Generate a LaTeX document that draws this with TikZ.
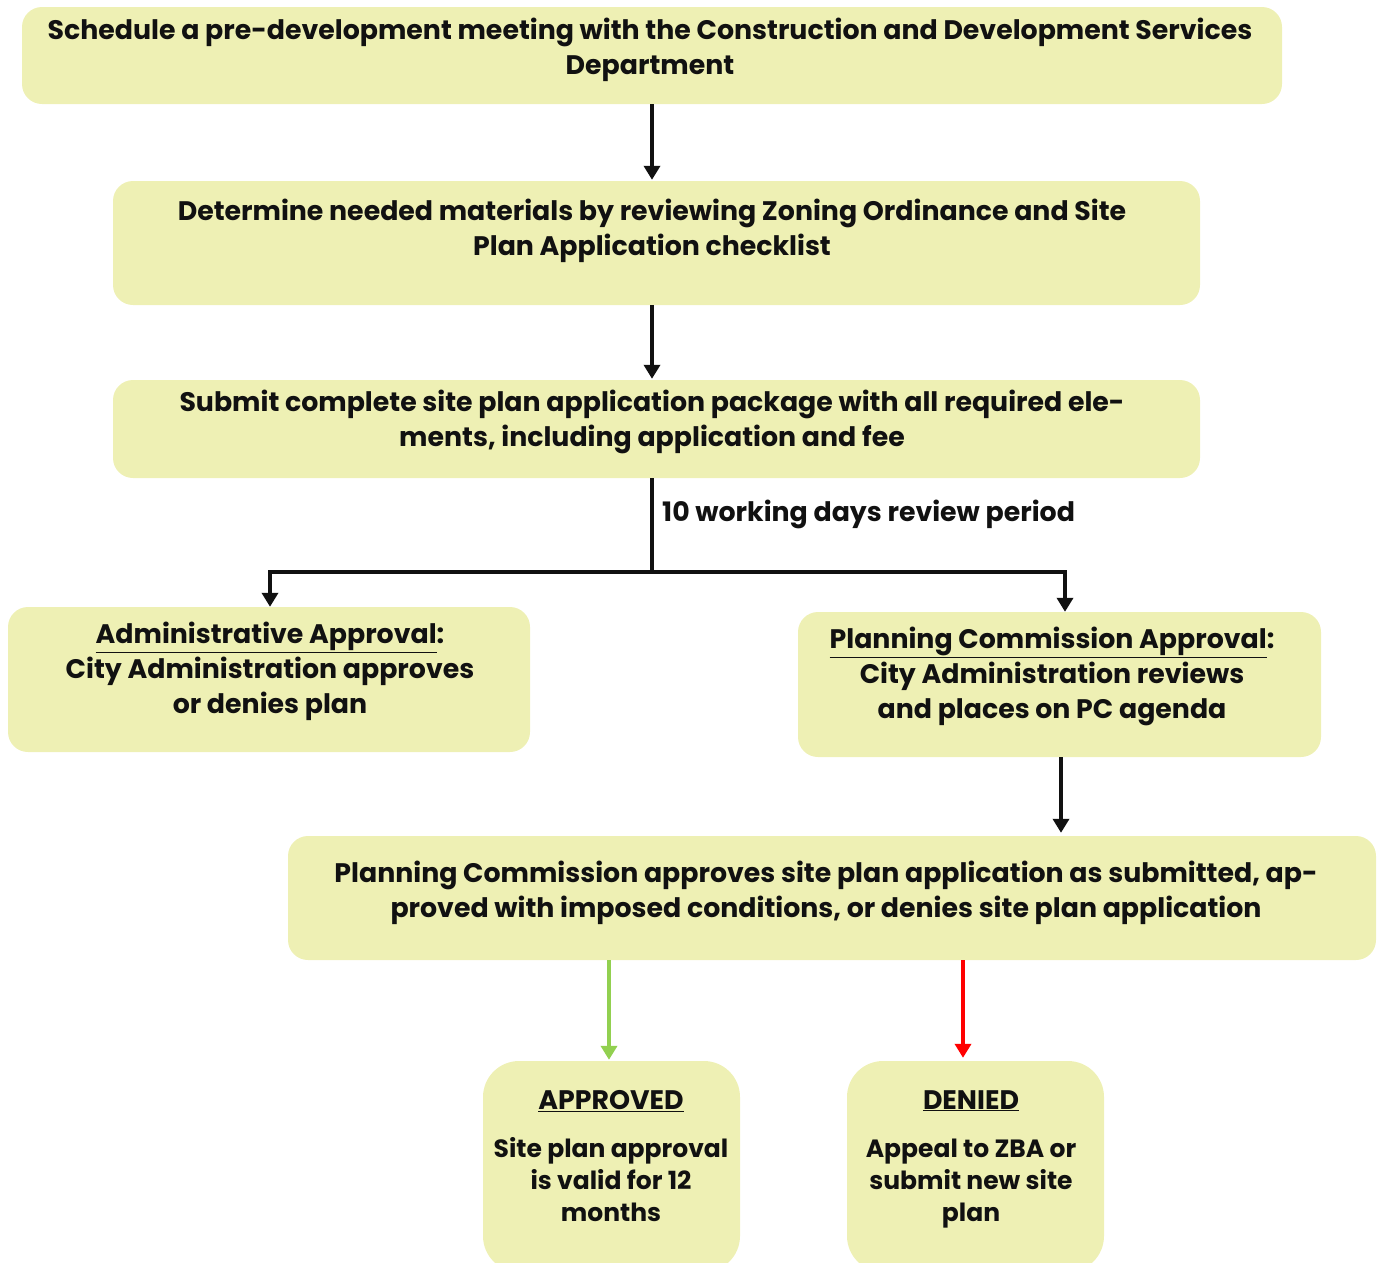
\documentclass[tikz,border=0pt]{standalone}
\usepackage{fontspec}
\setmainfont{Poppins}
\usetikzlibrary{arrows.meta}
\definecolor{boxfill}{RGB}{238,240,180}
\definecolor{okgreen}{RGB}{146,208,80}
\definecolor{nored}{RGB}{255,0,0}
\definecolor{ink}{RGB}{17,17,17}
\begin{document}
\begin{tikzpicture}[x=1pt,y=-1pt,
  box/.style={fill=boxfill, rounded corners=20pt, inner sep=0pt},
  endbox/.style={fill=boxfill, rounded corners=36pt, inner sep=0pt, minimum width=257pt, minimum height=211pt},
  txt/.style={font=\fontsize{26.8}{35}\selectfont\bfseries, text=ink, align=center, inner sep=0pt},
  endtxt/.style={font=\fontsize{25}{32}\selectfont\bfseries, text=ink, align=center, inner sep=0pt, anchor=north},
  head/.style={font=\fontsize{27.5}{32}\selectfont\bfseries},
  arr/.style={line width=4pt, draw=ink, -{Triangle[width=16pt,length=14pt]}},
  plain/.style={line width=4pt, draw=ink},
]
\useasboundingbox (0,0) rectangle (1380,1262);
\clip (0,0) rectangle (1380,1262);
% boxes
\node[box, minimum width=1260pt, minimum height=97pt] (b1) at (652,55.5) {};
\node[box, minimum width=1087pt, minimum height=124pt] (b2) at (656.5,243) {};
\node[box, minimum width=1087pt, minimum height=98pt] (b3) at (656.5,429) {};
\node[box, minimum width=522pt, minimum height=145pt] (b4) at (269,679.5) {};
\node[box, minimum width=523pt, minimum height=145pt] (b5) at (1059.5,684.5) {};
\node[box, minimum width=1088pt, minimum height=124pt] (b6) at (832,898) {};
\node[endbox] (b7) at (611.5,1166.5) {};
\node[endbox] (b8) at (975.5,1166.5) {};
% texts
\node[txt] (t1) at (650,50) {Schedule a pre-development meeting with the Construction and Development Services\\Department};
\node[txt] (t2) at (652,230.5) {Determine needed materials by reviewing Zoning Ordinance and Site\\Plan Application checklist};
\node[txt] (t3) at (652,422) {Submit complete site plan application package with all required ele-\\ments, including application and fee};
\node[txt] (t4) at (270,671.5) {\underline{Administrative Approval}:\\City Administration approves\\or denies plan};
\node[txt] (t5) at (1052,676.5) {\underline{Planning Commission Approval}:\\City Administration reviews\\and places on PC agenda};
\node[txt] (t6) at (826,893) {Planning Commission approves site plan application as submitted, ap-\\proved with imposed conditions, or denies site plan application};
\node[endtxt] (t7) at (611,1090) {{\fontsize{26.8}{32}\selectfont\underline{APPROVED}}\\[16pt]Site plan approval\\is valid for 12\\months};
\node[endtxt] (t8) at (971,1090) {{\fontsize{26.8}{32}\selectfont\underline{DENIED}}\\[16pt]Appeal to ZBA or\\submit new site\\plan};
\node[txt, anchor=west] (lbl) at (662,514) {10 working days review period};
% connectors
\coordinate (j) at (652,572);
\draw[arr, shorten >=1pt] (b1.south -| j) -- (b2.north -| j);
\draw[arr, shorten >=1pt] (b2.south -| j) -- (b3.north -| j);
\draw[plain] (b3.south -| j) -- (j);
\draw[arr, line join=miter] (j) -| ([xshift=1pt]b4.north);
\draw[arr, line join=miter] (j) -| ([xshift=5.5pt]b5.north);
\draw[arr, shorten >=3pt] ([xshift=1.5pt]b5.south) -- ([xshift=1.5pt]b5.south |- b6.north);
\draw[arr, draw=okgreen, shorten >=1pt] ([xshift=-2.5pt]b6.south -| b7.north) -- ([xshift=-2.5pt]b7.north);
\draw[arr, draw=nored, shorten >=3pt] ([xshift=-12.5pt]b6.south -| b8.north) -- ([xshift=-12.5pt]b8.north);
\end{tikzpicture}
\end{document}
